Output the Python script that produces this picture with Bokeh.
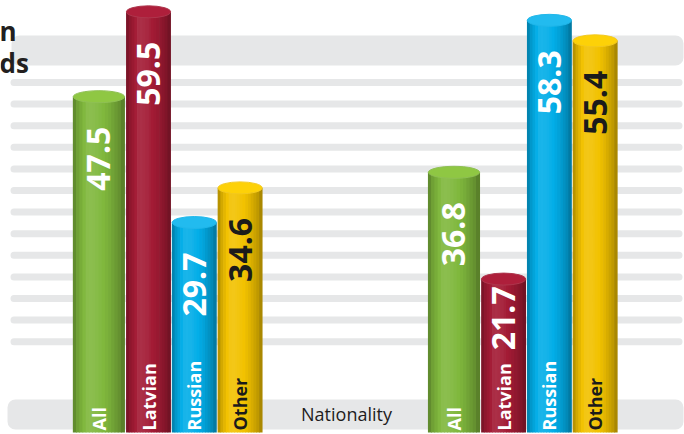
import numpy as np
from bokeh.plotting import figure
from bokeh.models import FactorRange, Range1d, ColumnDataSource, BoxAnnotation, Label
from bokeh.core.properties import value
from bokeh.embed import file_html
from bokeh.resources import INLINE

# ---------------- data ----------------
groups = ["Group A", "Group B"]          # group names are not shown in the picture
categories = ["All", "Latvian", "Russian", "Other"]
values_group_a = [47.5, 59.5, 29.7, 34.6]
values_group_b = [36.8, 21.7, 58.3, 55.4]
axis_title = "Nationality"
title_fragments = ["n", "ds"]

# ---------------- styles / layout ----------------
BASE = {"All": "#80b83d", "Latvian": "#a31b35", "Russian": "#03aee8", "Other": "#f2c200"}
TOP = {"All": "#8fc743", "Latvian": "#ae1f3b", "Russian": "#22bbef", "Other": "#fdd108"}
TEXT_COL = {"All": "white", "Latvian": "white", "Russian": "white", "Other": "#1b1b1b"}
BAR_W = {"All": 1.12, "Latvian": 0.965, "Russian": 0.965, "Other": 0.965}
BAR_OFF = {"All": 0.057, "Latvian": 0.14, "Russian": 0.14, "Other": 0.14}

W, H = 684, 434
PX_PER_UNIT = 7.07
ZERO_Y = 432.0   # canvas y of value 0
UNIT_PX = 45.8   # pixels per category slot


def v_at(py):
    return (ZERO_Y - py) / PX_PER_UNIT


def shade(hex_col, f):
    c = np.array([int(hex_col[i:i + 2], 16) for i in (1, 3, 5)], dtype=float)
    if f < 1:
        c = c * f
    else:
        c = c + (255 - c) * (f - 1)
    c = np.clip(c, 0, 255).astype(int)
    return "#%02x%02x%02x" % tuple(c)


prof_t = [0.0, 0.08, 0.3, 0.45, 0.7, 0.9, 1.0]
prof_f = [0.70, 0.86, 1.10, 1.07, 0.95, 0.80, 0.66]

factors = [(g, c) for g in groups for c in categories]
GROUP_PAD = 3.753
span = len(factors) + GROUP_PAD * (len(groups) - 1)
pad_pct = (W / UNIT_PX - span) / span
# shift so that the left edge stays where the reference has it
shift = (W / UNIT_PX - span) / 2 - (98.3 + 49.7 - 0) / UNIT_PX + 1.5
x_range = FactorRange(factors=factors, factor_padding=0.0, group_padding=GROUP_PAD,
                      range_padding=pad_pct, range_padding_units="percent")
y_range = Range1d(v_at(H), v_at(0))

p = figure(width=W, height=H, x_range=x_range, y_range=y_range,
           output_backend="svg", toolbar_location=None,
           x_axis_location=None, y_axis_location=None, min_border=0)
p.grid.visible = False
p.outline_line_color = None
p.background_fill_color = "white"
p.border_fill_color = "white"

# ---------------- background bands ----------------
band_col = "#e6e7e8"
p.add_layout(BoxAnnotation(left=11, right=683, left_units="screen", right_units="screen",
                           top=v_at(35), bottom=v_at(65), fill_color=band_col, fill_alpha=1,
                           line_color=None, border_radius=8, level="underlay"))
for k in range(13):
    yc = 82 + 21.6 * k
    p.add_layout(BoxAnnotation(left=10, right=682, left_units="screen", right_units="screen",
                               top=v_at(yc - 3.5), bottom=v_at(yc + 3.5), fill_color=band_col,
                               fill_alpha=1, line_color=None, border_radius=4, level="underlay"))
p.add_layout(BoxAnnotation(left=7, right=683, left_units="screen", right_units="screen",
                           top=v_at(399), bottom=v_at(429), fill_color=band_col, fill_alpha=1,
                           line_color=None, border_radius=8, level="underlay"))

# ---------------- cylinders ----------------
off_common = -shift
vals = {groups[0]: values_group_a, groups[1]: values_group_b}
N = 16
strip = dict(x=[], top=[], width=[], color=[])
tops = dict(x=[], y=[], w=[], color=[], line=[])
labs = dict(x=[], y=[], text=[], color=[])
cats = dict(x=[], y=[], text=[], color=[])
zone_top = v_at(363)
for g in groups:
    for c, v in zip(categories, vals[g]):
        w = BAR_W[c]
        off = BAR_OFF[c] - 0.14 + off_common
        for j in range(N):
            t = (j + 0.5) / N
            strip["x"].append((g, c, off + (t - 0.5) * w))
            strip["top"].append(v)
            strip["width"].append(w / N * 1.25)
            strip["color"].append(shade(BASE[c], float(np.interp(t, prof_t, prof_f))))
        tops["x"].append((g, c, off))
        tops["y"].append(v)
        tops["w"].append(w)
        tops["color"].append(TOP[c])
        tops["line"].append(shade(BASE[c], 1.12))
        top_edge = v + 6 / PX_PER_UNIT
        labs["x"].append((g, c, off))
        labs["y"].append(max(v - 62 / PX_PER_UNIT, (top_edge + zone_top) / 2))
        labs["text"].append(f"{v:.1f}")
        labs["color"].append(TEXT_COL[c])
        cats["x"].append((g, c, off))
        cats["y"].append(v_at(430))
        cats["text"].append(c)
        cats["color"].append(TEXT_COL[c])

p.vbar(x="x", top="top", bottom=0, width="width", color="color", line_color=None,
       source=ColumnDataSource(strip))
p.ellipse(x="x", y="y", width="w", height=12, height_units="screen", fill_color="color",
          line_color="line", line_width=1, source=ColumnDataSource(tops))

p.text(x="x", y="y", text="text", angle=np.pi / 2, text_align="center", text_baseline="middle",
       text_font=value("Open Sans"), text_font_style="bold", text_font_size="32px",
       text_color="color", source=ColumnDataSource(labs))
p.text(x="x", y="y", text="text", angle=np.pi / 2, text_align="left", text_baseline="middle",
       text_font=value("Open Sans"), text_font_style="bold", text_font_size="18px",
       text_color="color", source=ColumnDataSource(cats))

# ---------------- texts ----------------
p.add_layout(Label(x=346, x_units="screen", y=v_at(413.5), text=axis_title,
                   text_align="center", text_baseline="middle", text_font="Open Sans",
                   text_font_size="18px", text_color="#1e1c1d"))
p.add_layout(Label(x=-1, x_units="screen", y=v_at(30), text=title_fragments[0],
                   text_align="left", text_baseline="alphabetic", text_font="Open Sans",
                   text_font_style="bold", text_font_size="26px", text_color="#231f20"))
p.add_layout(Label(x=-1, x_units="screen", y=v_at(62), text=title_fragments[1],
                   text_align="left", text_baseline="alphabetic", text_font="Open Sans",
                   text_font_style="bold", text_font_size="26px", text_color="#231f20"))

open("out.html", "w").write(file_html(p, INLINE))
